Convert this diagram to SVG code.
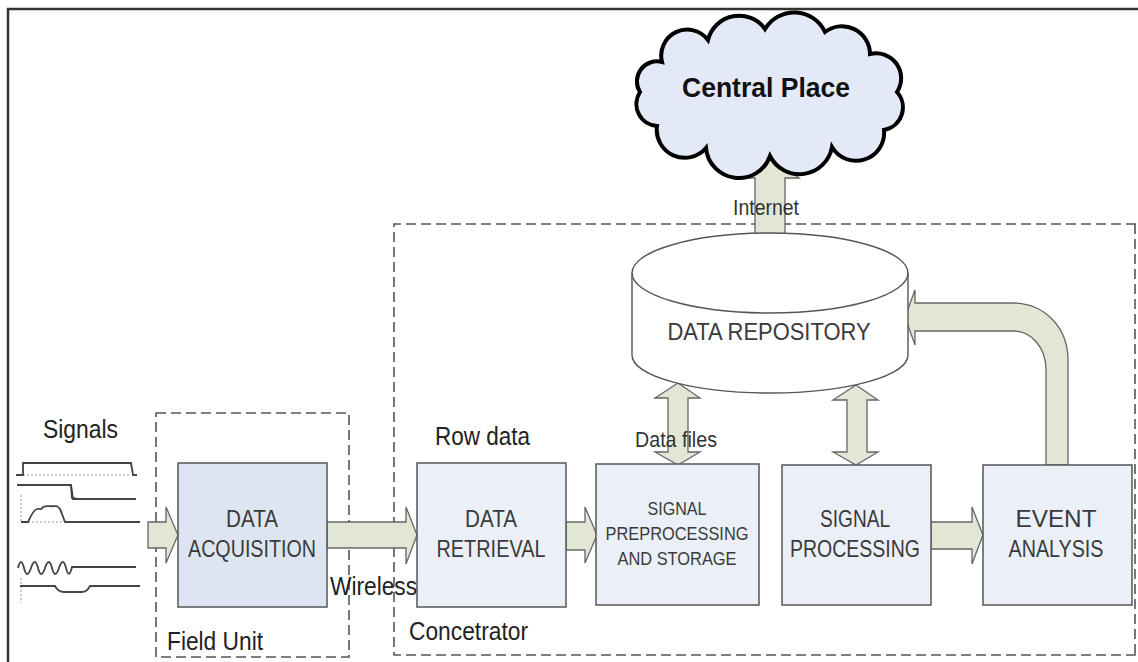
<svg xmlns="http://www.w3.org/2000/svg" width="1138" height="662" viewBox="0 0 1138 662">
<style>
.bg{fill:#ffffff}
.frame{fill:none;stroke:#333;stroke-width:2.5}
.dash{fill:none;stroke:#555;stroke-width:1.6;stroke-dasharray:10 5}
.box{fill:#ebeff8;stroke:#555;stroke-width:1.5}
.box2{fill:#dde5f3;stroke:#555;stroke-width:1.5}
.arr{fill:#e2e6d5;stroke:#666;stroke-width:1.3;stroke-linejoin:miter}
.wave{fill:none;stroke:#444;stroke-width:1.8}
.dot{fill:none;stroke:#999;stroke-width:1;stroke-dasharray:2 2}
.lbl{font-family:"Liberation Sans",Arial,sans-serif;font-size:25px;fill:#222}
.sm{font-family:"Liberation Sans",Arial,sans-serif;font-size:22px;fill:#333}
.bt{font-family:"Liberation Sans",Arial,sans-serif;font-size:24px;fill:#3a3a3a;text-anchor:middle}
.bts{font-family:"Liberation Sans",Arial,sans-serif;font-size:19px;fill:#3a3a3a;text-anchor:middle}
</style>
<rect class="bg" x="0" y="0" width="1138" height="662"/>
<path class="frame" d="M8,662 L8,9 L1138,9"/>

<!-- containers -->
<g id="field-unit">
<rect class="dash" x="156" y="413" width="193" height="244"/>
<text class="lbl" x="167" y="650" textLength="96" lengthAdjust="spacingAndGlyphs">Field Unit</text>
</g>
<g id="concentrator">
<path class="dash" d="M1136,224 L394,224 L394,655 L1136,655"/>
<path class="dash" d="M1135,224 L1135,655"/>
<text class="lbl" x="409" y="640" textLength="119" lengthAdjust="spacingAndGlyphs">Concetrator</text>
</g>

<!-- signals -->
<g id="signals">
<text class="lbl" x="43" y="438" textLength="75" lengthAdjust="spacingAndGlyphs">Signals</text>
<path class="dot" d="M23,475 L131,475 M23,462 L23,478 M21,495 L21,522 M28,522 L65,522 M21,578 L21,603"/>
<path class="wave" d="M16,475 L23,475 L23,463 L131,463 L133,475 L137,475"/>
<path class="wave" d="M17,485 L71,485 L73,499 L136,499"/>
<path class="wave" stroke-width="3" d="M71,486 L72,498 L78,499"/>
<path class="wave" d="M21,522 L28,522 C31,516 33,510 37,509 C40,508 41,511 43,507 C47,505 52,507 56,506 C60,507 61,510 62,514 L65,522 L140,522"/>
<path class="wave" d="M18,568 Q21,556 24,568 T31,568 T38,568 T45,568 T52,568 T59,568 T66,568 T72,567 L136,567"/>
<path class="wave" d="M20,586 L55,586 Q58,592 64,592 L82,592 Q87,592 90,586 L140,586"/>
</g>

<!-- connectors -->
<g id="connectors">
<path class="arr" d="M148,522 L166,522 L166,507 L178,535 L166,563 L166,548 L148,548 Z"/>
<path class="arr" d="M327,522 L406,522 L406,507 L417,535 L406,564 L406,548 L327,548 Z"/>
<path class="arr" d="M566,522 L585,522 L585,507 L597,535 L585,563 L585,550 L566,550 Z"/>
<path class="arr" d="M931,522 L972,522 L972,507 L983,535 L972,564 L972,549 L931,549 Z"/>
<path class="arr" d="M755,234 L755,178 L739,178 L770,158 L799,178 L785,178 L785,234 Z"/>
<path class="arr" d="M668,398 L655,398 L678,383 L700,398 L688,398 L688,452 L700,452 L678,465 L655,452 L668,452 Z"/>
<path class="arr" d="M847,400 L833,400 L856,385 L878,400 L867,400 L867,452 L878,452 L856,465 L833,452 L847,452 Z"/>
<path class="arr" d="M1068,465 L1068,360 C1068,328 1045,303 1013,303 L915,303 L915,290 L905,317 L915,345 L915,331 L1013,331 C1032,331 1046,348 1046,370 L1046,465 Z"/>
</g>

<!-- cloud -->
<g id="central-place">
<path d="M662,62 A26,26 0 0 1 708,40 A32,32 0 0 1 765,29 A34,34 0 0 1 825,32 A28,28 0 0 1 870,54 A25,25 0 0 1 897,92 A23,23 0 0 1 884,130 A28,28 0 0 1 832,147 A33,33 0 0 1 770,156 A33,33 0 0 1 706,148 A28,28 0 0 1 657,126 A22,22 0 0 1 640,92 A20,20 0 0 1 662,62 Z" fill="#e3e9f6" stroke="#000" stroke-width="4"/>
<text x="682" y="97" font-family="'Liberation Sans',Arial,sans-serif" font-size="27" font-weight="bold" fill="#111" textLength="168" lengthAdjust="spacingAndGlyphs">Central Place</text>
</g>

<!-- repository -->
<g id="data-repository">
<path d="M632,273 L632,355 A138,38 0 0 0 908,355 L908,273 A138,40 0 0 0 632,273 Z" fill="#fff" stroke="#555" stroke-width="1.4"/>
<path d="M632,273 A138,40 0 0 0 908,273" fill="none" stroke="#555" stroke-width="1.4"/>
<text class="bt" x="769" y="340" font-size="25" textLength="203" lengthAdjust="spacingAndGlyphs">DATA REPOSITORY</text>
</g>

<g id="data-acquisition">
<rect class="box2" x="178" y="463" width="149" height="144"/>
<text class="bt" x="252" y="527" textLength="52" lengthAdjust="spacingAndGlyphs">DATA</text>
<text class="bt" x="252" y="557" textLength="128" lengthAdjust="spacingAndGlyphs">ACQUISITION</text>
</g>

<g id="data-retrieval">
<rect class="box" x="417" y="463" width="149" height="144"/>
<text class="bt" x="491" y="527" textLength="52" lengthAdjust="spacingAndGlyphs">DATA</text>
<text class="bt" x="491" y="557" textLength="109" lengthAdjust="spacingAndGlyphs">RETRIEVAL</text>
</g>

<g id="signal-preprocessing">
<rect class="box" x="596" y="464" width="163" height="141"/>
<text class="bts" x="677" y="515" textLength="59" lengthAdjust="spacingAndGlyphs">SIGNAL</text>
<text class="bts" x="677" y="540" textLength="143" lengthAdjust="spacingAndGlyphs">PREPROCESSING</text>
<text class="bts" x="677" y="565" textLength="119" lengthAdjust="spacingAndGlyphs">AND STORAGE</text>
</g>

<g id="signal-processing">
<rect class="box" x="782" y="465" width="149" height="140"/>
<text class="bt" x="855" y="527" textLength="70" lengthAdjust="spacingAndGlyphs">SIGNAL</text>
<text class="bt" x="855" y="557" textLength="130" lengthAdjust="spacingAndGlyphs">PROCESSING</text>
</g>

<g id="event-analysis">
<rect class="box" x="983" y="465" width="149" height="140"/>
<text class="bt" x="1056" y="527" textLength="81" lengthAdjust="spacingAndGlyphs">EVENT</text>
<text class="bt" x="1056" y="557" textLength="95" lengthAdjust="spacingAndGlyphs">ANALYSIS</text>
</g>

<g id="labels">
<text class="lbl" x="330" y="595" textLength="87" lengthAdjust="spacingAndGlyphs">Wireless</text>
<text class="lbl" x="435" y="445" textLength="95" lengthAdjust="spacingAndGlyphs">Row data</text>
<text class="sm" x="635" y="447" textLength="82" lengthAdjust="spacingAndGlyphs">Data files</text>
<text class="sm" x="733" y="215" textLength="66" lengthAdjust="spacingAndGlyphs">Internet</text>
</g>
</svg>
